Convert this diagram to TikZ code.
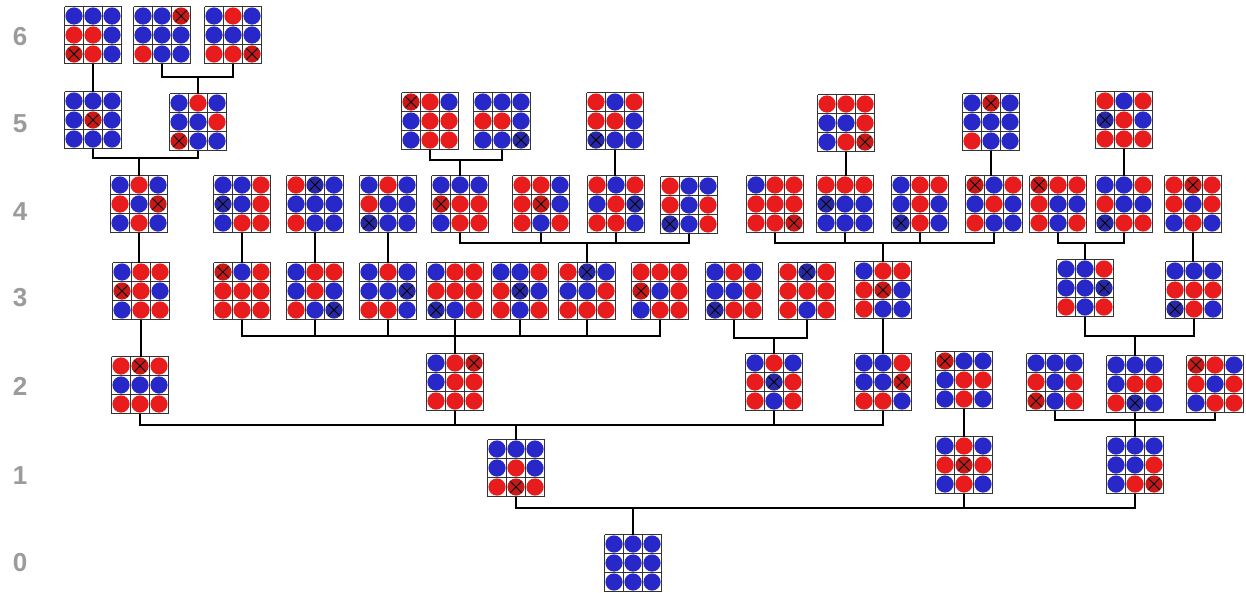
\documentclass[tikz,border=0pt]{standalone}
\usepackage{fontspec}
\setmainfont{Liberation Sans}
\definecolor{rcol}{RGB}{232,28,28}
\definecolor{bcol}{RGB}{40,40,200}
\definecolor{rcolx}{RGB}{200,25,25}
\definecolor{bcolx}{RGB}{40,40,165}
\definecolor{lvlgray}{RGB}{155,155,155}
\tikzset{
  gbox/.style={draw=none, minimum size=57pt, inner sep=0pt, outer sep=0pt},
  gline/.style={draw=black!80, line width=1pt},
  conn/.style={draw=black, line width=2pt},
  xmark/.style={draw=black, line width=0.8pt},
  lvl/.style={text=lvlgray, font=\fontsize{26}{26}\selectfont\bfseries, anchor=center},
}
\newcommand\G[4]{%
  \node[gbox] (#1) at (#2,#3) {};
  \foreach \c [count=\k from 0] in {#4} {%
    \pgfmathtruncatemacro\cc{mod(\k,3)}%
    \pgfmathtruncatemacro\rr{div(\k,3)}%
    \pgfmathsetmacro\px{#2+(\cc-1)*19}%
    \pgfmathsetmacro\py{#3+(\rr-1)*19}%
    \ifcase\c\relax \colorlet{bc}{bcol}\or \colorlet{bc}{rcol}\or \colorlet{bc}{bcolx}\else \colorlet{bc}{rcolx}\fi
    \fill[bc] (\px,\py) circle[radius=8.6pt];
    \ifnum\c>1\relax \draw[xmark] (\px-5.5,\py-5.5) -- (\px+5.5,\py+5.5) (\px-5.5,\py+5.5) -- (\px+5.5,\py-5.5);\fi
  }%
  \foreach \i in {0,...,3} {%
    \draw[gline] (#2-28.5+\i*19,#3-28.5) -- (#2-28.5+\i*19,#3+28.5);
    \draw[gline] (#2-28.5,#3-28.5+\i*19) -- (#2+28.5,#3-28.5+\i*19);
  }%
}
\begin{document}
\begin{tikzpicture}[x=1pt,y=-1pt]
\useasboundingbox (0,0) rectangle (1246,592);
\fill[white] (0,0) rectangle (1246,592);
% level labels
\node[lvl] (l6) at (20,37) {6};
\node[lvl] (l5) at (20,124) {5};
\node[lvl] (l4) at (20,212) {4};
\node[lvl] (l3) at (20,298) {3};
\node[lvl] (l2) at (20,386) {2};
\node[lvl] (l1) at (20,476) {1};
\node[lvl] (l0) at (20,563) {0};
% level 6
\G{g6a}{93}{35}{0,0,0,1,1,0,3,1,0}
\G{g6b}{162}{35}{0,0,3,0,0,0,1,0,0}
\G{g6c}{233}{35}{0,1,0,0,0,0,1,1,3}
% level 5
\G{g5a}{93}{120}{0,0,0,0,3,0,0,0,0}
\G{g5b}{198}{122}{0,1,0,0,0,1,3,0,0}
\G{g5c}{430}{121}{3,1,0,0,1,1,0,1,1}
\G{g5d}{502}{121}{0,0,0,1,1,0,0,0,2}
\G{g5e}{615}{121}{1,0,1,1,1,0,2,0,0}
\G{g5f}{846}{123}{1,1,1,0,0,1,0,1,3}
\G{g5g}{991}{122}{0,3,0,0,0,0,1,0,0}
\G{g5h}{1124}{120}{1,0,1,2,1,0,1,1,1}
% level 4
\G{g4a}{139}{204}{0,1,0,1,0,3,0,1,0}
\G{g4b}{242}{204}{0,0,1,2,0,1,0,1,1}
\G{g4c}{315}{204}{1,2,0,0,0,0,1,0,0}
\G{g4d}{388}{204}{0,1,0,1,0,0,2,0,0}
\G{g4e}{460}{204}{0,0,0,3,1,1,0,1,1}
\G{g4f}{541}{204}{1,1,0,1,3,0,1,0,1}
\G{g4g}{616}{204}{1,0,1,0,1,2,1,1,0}
\G{g4h}{689}{205}{1,0,0,1,0,1,2,0,1}
\G{g4i}{775}{204}{0,1,1,1,1,1,1,1,3}
\G{g4j}{845}{204}{1,1,1,2,0,0,0,0,0}
\G{g4k}{920}{204}{0,1,1,0,1,0,2,1,0}
\G{g4l}{994}{204}{3,0,1,0,1,0,1,0,0}
\G{g4m}{1058}{204}{3,1,1,1,0,0,1,0,1}
\G{g4n}{1124}{204}{0,0,1,1,0,0,2,1,1}
\G{g4o}{1193}{204}{1,3,1,1,0,1,0,1,0}
% level 3
\G{g3a}{141}{291}{0,1,1,3,1,0,0,1,1}
\G{g3b}{242}{291}{3,0,1,1,1,1,1,1,1}
\G{g3c}{315}{291}{0,1,1,0,1,0,1,0,2}
\G{g3d}{388}{291}{0,1,0,0,0,2,1,1,0}
\G{g3e}{455}{291}{0,1,1,1,1,1,2,0,1}
\G{g3f}{520}{291}{0,0,1,1,2,0,1,0,1}
\G{g3g}{587}{291}{1,2,0,0,0,1,1,1,1}
\G{g3h}{660}{291}{1,1,1,3,0,1,0,1,1}
\G{g3i}{734}{291}{0,1,0,0,0,1,2,1,1}
\G{g3j}{807}{291}{1,2,1,1,1,1,1,0,1}
\G{g3k}{883}{290}{0,1,1,1,3,0,1,0,0}
\G{g3l}{1085}{288}{0,0,1,0,0,2,1,0,1}
\G{g3m}{1194}{290}{0,0,0,1,1,1,2,1,0}
% level 2
\G{g2a}{140}{385}{1,3,1,0,0,0,1,1,1}
\G{g2b}{455}{382}{0,1,3,0,1,1,1,1,1}
\G{g2c}{774}{382}{0,1,0,1,2,1,1,0,1}
\G{g2d}{883}{382}{0,0,1,0,0,3,1,1,0}
\G{g2e}{964}{380}{3,0,0,0,1,1,0,1,0}
\G{g2f}{1055}{382}{0,0,0,1,0,1,3,0,1}
\G{g2g}{1135}{384}{0,0,0,0,1,1,1,2,0}
\G{g2h}{1215}{384}{3,1,0,1,0,1,0,1,1}
% level 1
\G{g1a}{516}{468}{0,0,0,0,1,0,1,3,1}
\G{g1b}{964}{465}{0,1,0,1,3,1,0,1,0}
\G{g1c}{1135}{465}{0,0,0,0,0,1,0,1,3}
% level 0
\G{g0}{633}{563}{0,0,0,0,0,0,0,0,0}
% connectors 6 -> 5
\coordinate (y6) at (0,77);
\draw[conn] (g6a.south) -- (g6a.south|-g5a.north);
\draw[conn] (g6b.south) -- (g6b.south|-y6) -- (g6c.south|-y6) -- (g6c.south);
\draw[conn] (g5b.north) -- (g5b.north|-y6);
% 5 -> 4
\coordinate (y5a) at (0,158);
\draw[conn] (g5a.south) -- (g5a.south|-y5a) -- (g5b.south|-y5a) -- (g5b.south);
\draw[conn] (g4a.north) -- (g4a.north|-y5a);
\coordinate (y5b) at (0,160);
\draw[conn] (g5c.south) -- (g5c.south|-y5b) -- (g5d.south|-y5b) -- (g5d.south);
\draw[conn] (g4e.north) -- (g4e.north|-y5b);
\draw[conn] (g5e.south) -- (g5e.south|-g4g.north);
\draw[conn] (g5f.south) -- (g5f.south|-g4j.north);
\draw[conn] (g5g.south) -- (g5g.south|-g4l.north);
\draw[conn] (g5h.south) -- (g5h.south|-g4n.north);
% 4 -> 3
\draw[conn] (g4a.south) -- (g4a.south|-g3a.north);
\draw[conn] (g4b.south) -- (g4b.south|-g3b.north);
\draw[conn] (g4c.south) -- (g4c.south|-g3c.north);
\draw[conn] (g4d.south) -- (g4d.south|-g3d.north);
\coordinate (y4) at (0,243);
\draw[conn] (g4e.south) -- (g4e.south|-y4) -- (g4h.south|-y4) -- (g4h.south);
\draw[conn] (g4f.south) -- (g4f.south|-y4);
\draw[conn] (g4g.south) -- (g4g.south|-y4);
\draw[conn] (g3g.north) -- (g3g.north|-y4);
\draw[conn] (g4i.south) -- (g4i.south|-y4) -- (g4l.south|-y4) -- (g4l.south);
\draw[conn] (g4j.south) -- (g4j.south|-y4);
\draw[conn] (g4k.south) -- (g4k.south|-y4);
\draw[conn] (g3k.north) -- (g3k.north|-y4);
\draw[conn] (g4m.south) -- (g4m.south|-y4) -- (g4n.south|-y4) -- (g4n.south);
\draw[conn] (g3l.north) -- (g3l.north|-y4);
\draw[conn] (g4o.south) -- (g4o.south|-g3m.north);
% 3 -> 2
\draw[conn] (g3a.south) -- (g3a.south|-g2a.north);
\coordinate (y3) at (0,336);
\draw[conn] (g3b.south) -- (g3b.south|-y3) -- (g3h.south|-y3) -- (g3h.south);
\draw[conn] (g3c.south) -- (g3c.south|-y3);
\draw[conn] (g3d.south) -- (g3d.south|-y3);
\draw[conn] (g3e.south) -- (g3e.south|-y3);
\draw[conn] (g3f.south) -- (g3f.south|-y3);
\draw[conn] (g3g.south) -- (g3g.south|-y3);
\draw[conn] (g2b.north) -- (g2b.north|-y3);
\coordinate (y3b) at (0,338);
\draw[conn] (g3i.south) -- (g3i.south|-y3b) -- (g3j.south|-y3b) -- (g3j.south);
\draw[conn] (g2c.north) -- (g2c.north|-y3b);
\draw[conn] (g3k.south) -- (g3k.south|-g2d.north);
\draw[conn] (g3l.south) -- (g3l.south|-y3) -- (g3m.south|-y3) -- (g3m.south);
\draw[conn] (g2g.north) -- (g2g.north|-y3);
% 2 -> 1
\coordinate (y2) at (0,425);
\draw[conn] (g2a.south) -- (g2a.south|-y2) -- (g2d.south|-y2) -- (g2d.south);
\draw[conn] (g2b.south) -- (g2b.south|-y2);
\draw[conn] (g2c.south) -- (g2c.south|-y2);
\draw[conn] (g1a.north) -- (g1a.north|-y2);
\draw[conn] (g2e.south) -- (g2e.south|-g1b.north);
\coordinate (y2b) at (0,420);
\draw[conn] (g2f.south) -- (g2f.south|-y2b) -- (g2h.south|-y2b) -- (g2h.south);
\draw[conn] (g2g.south) -- (g2g.south|-y2b);
\draw[conn] (g1c.north) -- (g1c.north|-y2b);
% 1 -> 0
\coordinate (y1) at (0,508);
\draw[conn] (g1a.south) -- (g1a.south|-y1) -- (g1c.south|-y1) -- (g1c.south);
\draw[conn] (g1b.south) -- (g1b.south|-y1);
\draw[conn] (g0.north) -- (g0.north|-y1);
\end{tikzpicture}
\end{document}
